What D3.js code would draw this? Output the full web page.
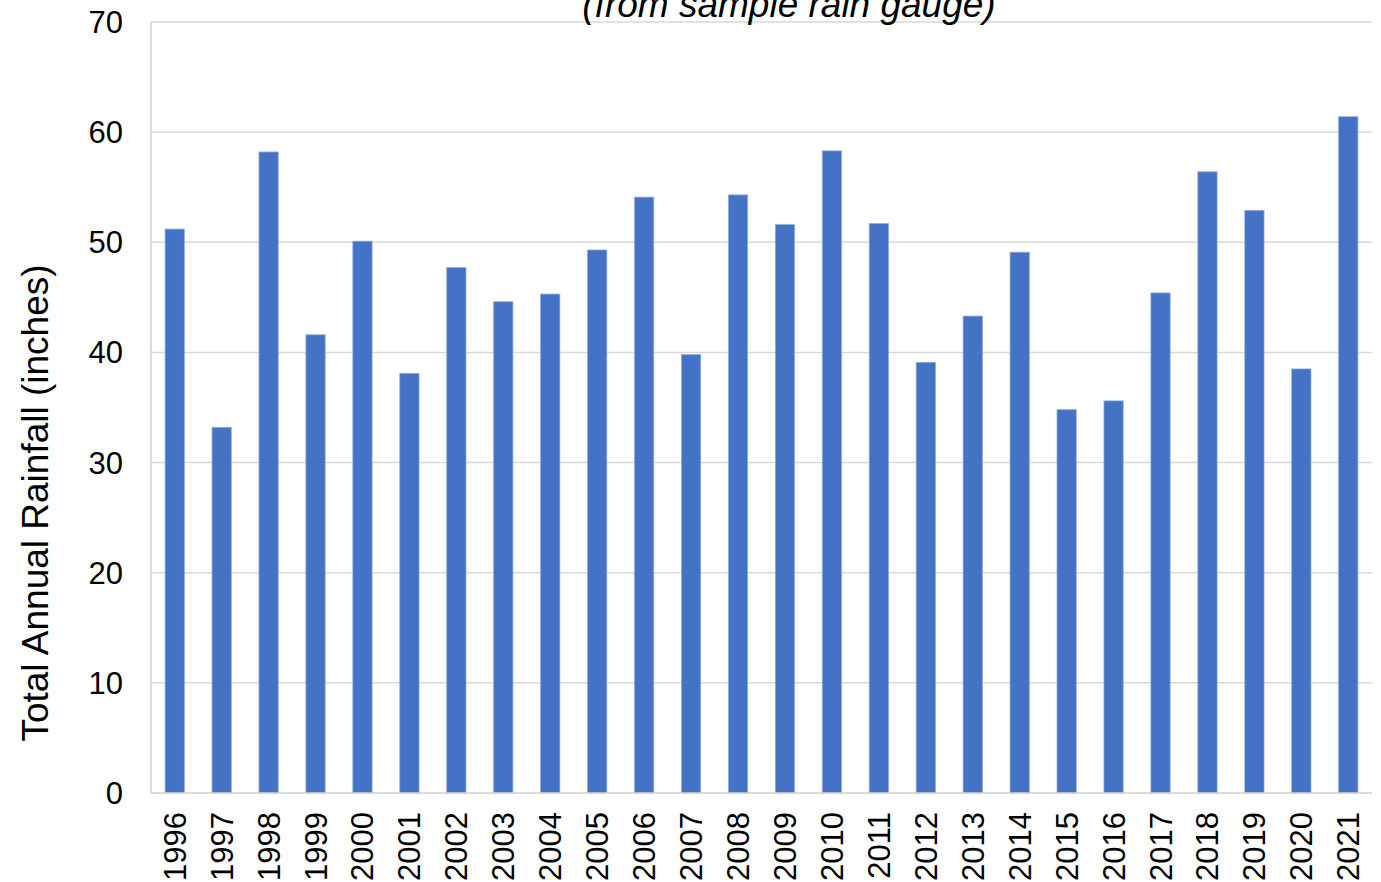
<!DOCTYPE html>
<html>
<head>
<meta charset="utf-8">
<script src="https://cdn.jsdelivr.net/npm/d3@7/dist/d3.min.js"></script>
<style>
	body { margin: 0; background: #fff; }
	text { font-family: "Liberation Sans", Arial, sans-serif; fill: #000; }
</style>
</head>
<body>
<script>
var years = ["1996","1997","1998","1999","2000","2001","2002","2003","2004","2005","2006","2007","2008","2009","2010","2011","2012","2013","2014","2015","2016","2017","2018","2019","2020","2021"];
var rainfall = [51.2, 33.2, 58.2, 41.6, 50.1, 38.1, 47.7, 44.6, 45.3, 49.3, 54.1, 39.8, 54.3, 51.6, 58.3, 51.7, 39.1, 43.3, 49.1, 34.8, 35.6, 45.4, 56.4, 52.9, 38.5, 61.4];
var yTicks = [0, 10, 20, 30, 40, 50, 60, 70];

var width = 1381, height = 882;
var plotLeft = 151, plotRight = 1372, plotTop = 22, plotBottom = 793;

var svg = d3.select("body")
			.append("svg")
			.attr("width", width)
			.attr("height", height);

var x = d3.scaleBand()
		.domain(years)
		.range([plotLeft, plotRight])
		.paddingInner(0.59)
		.paddingOuter(0.3);

var y = d3.scaleLinear()
		.domain([0, 70])
		.range([plotBottom, plotTop]);

// gridlines
svg.append("g")
	.selectAll("line")
	.data(yTicks.slice(1))
	.enter().append("line")
	.attr("x1", plotLeft)
	.attr("x2", plotRight)
	.attr("y1", function(d){ return y(d); })
	.attr("y2", function(d){ return y(d); })
	.attr("stroke", "#d9d9d9")
	.attr("stroke-width", 1.5);

// bars
svg.append("g")
	.selectAll("rect")
	.data(rainfall)
	.enter().append("rect")
	.attr("x", function(d, i){ return x(years[i]); })
	.attr("y", function(d){ return y(d); })
	.attr("width", x.bandwidth())
	.attr("height", function(d){ return plotBottom - y(d); })
	.attr("fill", "#4472c4")
	.attr("stroke", "#8faadc")
	.attr("stroke-width", 0.8);

// axis lines
svg.append("line")
	.attr("x1", plotLeft).attr("x2", plotLeft)
	.attr("y1", plotTop).attr("y2", plotBottom)
	.attr("stroke", "#d0d0d0")
	.attr("stroke-width", 1.5);
svg.append("line")
	.attr("x1", plotLeft).attr("x2", plotRight)
	.attr("y1", plotBottom).attr("y2", plotBottom)
	.attr("stroke", "#d0d0d0")
	.attr("stroke-width", 1.5);

// y tick labels
svg.append("g")
	.selectAll("text")
	.data(yTicks)
	.enter().append("text")
	.text(function(d){ return d; })
	.attr("x", 123)
	.attr("y", function(d){ return y(d) + 11; })
	.attr("text-anchor", "end")
	.attr("font-size", 31);

// x tick labels
svg.append("g")
	.selectAll("text")
	.data(years)
	.enter().append("text")
	.text(function(d){ return d; })
	.attr("transform", function(d){
		return "translate(" + (x(d) + x.bandwidth()/2 + 11) + ",812) rotate(-90)";
	})
	.attr("text-anchor", "end")
	.attr("font-size", 31);

// y axis title
svg.append("text")
	.text("Total Annual Rainfall (inches)")
	.attr("transform", "translate(48,503) rotate(-90)")
	.attr("text-anchor", "middle")
	.attr("font-size", 37);

// title (partly cut off at top)
svg.append("text")
	.text("(from sample rain gauge)")
	.attr("x", 789)
	.attr("y", 17)
	.attr("text-anchor", "middle")
	.attr("font-style", "italic")
	.attr("font-size", 37);
</script>
</body>
</html>
